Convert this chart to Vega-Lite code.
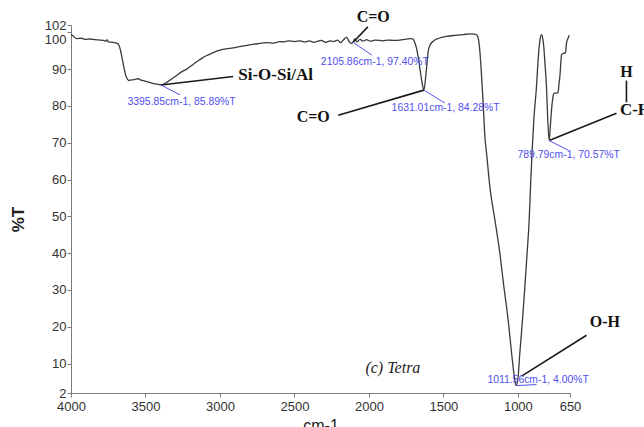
{
  "$schema": "https://vega.github.io/schema/vega-lite/v6.json",
  "width": 499,
  "height": 368,
  "autosize": {"type": "none"},
  "padding": {"left": 71, "top": 25, "right": 74, "bottom": 34},
  "background": "white",
  "config": {
    "view": {"stroke": null},
    "axis": {
      "grid": false,
      "domainColor": "#7a7a7a",
      "tickColor": "#7a7a7a",
      "labelColor": "#333333",
      "labelFont": "Liberation Sans",
      "labelFontSize": 13,
      "titleFont": "Liberation Sans",
      "titleColor": "#222222",
      "titleFontSize": 16,
      "titleFontWeight": "normal",
      "tickSize": 4,
      "labelOverlap": false,
      "labelFlush": false,
      "format": "d"
    }
  },
  "datasets": {
    "spectrum": [
      {"wn": 4000, "T": 99.4}, {"wn": 3985, "T": 99.0}, {"wn": 3962, "T": 98.3}, {"wn": 3930, "T": 98.4},
      {"wn": 3900, "T": 98.1}, {"wn": 3872, "T": 98.2}, {"wn": 3840, "T": 98.0}, {"wn": 3805, "T": 97.9},
      {"wn": 3780, "T": 97.8}, {"wn": 3765, "T": 97.6}, {"wn": 3758, "T": 98.0}, {"wn": 3750, "T": 97.4},
      {"wn": 3718, "T": 97.3}, {"wn": 3690, "T": 97.0}, {"wn": 3682, "T": 96.8}, {"wn": 3672, "T": 95.8},
      {"wn": 3667, "T": 95.0}, {"wn": 3658, "T": 93.2}, {"wn": 3649, "T": 91.4}, {"wn": 3640, "T": 89.6},
      {"wn": 3631, "T": 88.1}, {"wn": 3620, "T": 87.2}, {"wn": 3610, "T": 86.9}, {"wn": 3595, "T": 87.1},
      {"wn": 3582, "T": 87.1}, {"wn": 3565, "T": 87.3}, {"wn": 3548, "T": 87.4}, {"wn": 3530, "T": 87.0},
      {"wn": 3515, "T": 86.9}, {"wn": 3490, "T": 86.6}, {"wn": 3458, "T": 86.2}, {"wn": 3430, "T": 86.0},
      {"wn": 3410, "T": 85.8}, {"wn": 3396, "T": 85.7}, {"wn": 3380, "T": 85.9}, {"wn": 3358, "T": 86.4},
      {"wn": 3330, "T": 87.2}, {"wn": 3291, "T": 88.3}, {"wn": 3260, "T": 89.2}, {"wn": 3224, "T": 90.0},
      {"wn": 3190, "T": 91.0}, {"wn": 3156, "T": 92.0}, {"wn": 3120, "T": 93.0}, {"wn": 3089, "T": 93.7},
      {"wn": 3050, "T": 94.4}, {"wn": 3022, "T": 94.9}, {"wn": 3000, "T": 95.2}, {"wn": 2960, "T": 95.5},
      {"wn": 2911, "T": 95.8}, {"wn": 2860, "T": 96.2}, {"wn": 2799, "T": 96.6}, {"wn": 2750, "T": 96.9},
      {"wn": 2687, "T": 97.2}, {"wn": 2640, "T": 97.1}, {"wn": 2600, "T": 97.5}, {"wn": 2575, "T": 97.4},
      {"wn": 2540, "T": 97.7}, {"wn": 2500, "T": 97.5}, {"wn": 2463, "T": 97.7}, {"wn": 2430, "T": 97.4},
      {"wn": 2400, "T": 97.7}, {"wn": 2370, "T": 97.3}, {"wn": 2351, "T": 97.5}, {"wn": 2320, "T": 97.8},
      {"wn": 2290, "T": 97.3}, {"wn": 2260, "T": 97.7}, {"wn": 2240, "T": 97.5}, {"wn": 2210, "T": 97.9},
      {"wn": 2190, "T": 97.2}, {"wn": 2170, "T": 98.0}, {"wn": 2150, "T": 98.7}, {"wn": 2135, "T": 97.6},
      {"wn": 2120, "T": 97.0}, {"wn": 2106, "T": 97.3}, {"wn": 2095, "T": 98.2}, {"wn": 2080, "T": 97.4},
      {"wn": 2060, "T": 98.1}, {"wn": 2040, "T": 97.6}, {"wn": 2016, "T": 98.0}, {"wn": 1990, "T": 97.6},
      {"wn": 1960, "T": 97.9}, {"wn": 1926, "T": 97.8}, {"wn": 1906, "T": 97.7}, {"wn": 1870, "T": 97.9},
      {"wn": 1830, "T": 97.8}, {"wn": 1792, "T": 97.9}, {"wn": 1760, "T": 98.1}, {"wn": 1725, "T": 98.3},
      {"wn": 1705, "T": 98.2}, {"wn": 1695, "T": 97.5}, {"wn": 1680, "T": 95.6}, {"wn": 1668, "T": 93.0},
      {"wn": 1658, "T": 90.3}, {"wn": 1645, "T": 86.8}, {"wn": 1631, "T": 84.3}, {"wn": 1620, "T": 87.5},
      {"wn": 1613, "T": 90.3}, {"wn": 1602, "T": 94.8}, {"wn": 1590, "T": 96.5}, {"wn": 1568, "T": 97.6},
      {"wn": 1530, "T": 98.4}, {"wn": 1479, "T": 98.9}, {"wn": 1420, "T": 99.2}, {"wn": 1367, "T": 99.4},
      {"wn": 1320, "T": 99.6}, {"wn": 1289, "T": 99.5}, {"wn": 1275, "T": 99.2}, {"wn": 1266, "T": 98.4},
      {"wn": 1255, "T": 94.8}, {"wn": 1245, "T": 89.0}, {"wn": 1233, "T": 80.7}, {"wn": 1221, "T": 71.5},
      {"wn": 1210, "T": 67.1}, {"wn": 1188, "T": 58.1}, {"wn": 1154, "T": 49.0}, {"wn": 1121, "T": 40.0},
      {"wn": 1094, "T": 30.9}, {"wn": 1065, "T": 21.8}, {"wn": 1042, "T": 12.8}, {"wn": 1025, "T": 6.8},
      {"wn": 1012, "T": 4.0}, {"wn": 1000, "T": 5.8}, {"wn": 987, "T": 12.8}, {"wn": 969, "T": 21.8},
      {"wn": 953, "T": 30.9}, {"wn": 938, "T": 40.0}, {"wn": 924, "T": 49.0}, {"wn": 915, "T": 58.1},
      {"wn": 905, "T": 67.1}, {"wn": 893, "T": 76.2}, {"wn": 875, "T": 85.3}, {"wn": 865, "T": 92.0},
      {"wn": 857, "T": 96.1}, {"wn": 849, "T": 98.6}, {"wn": 841, "T": 99.4}, {"wn": 834, "T": 98.6},
      {"wn": 826, "T": 96.1}, {"wn": 818, "T": 91.5}, {"wn": 808, "T": 85.3}, {"wn": 800, "T": 77.0},
      {"wn": 790, "T": 70.6}, {"wn": 782, "T": 74.5}, {"wn": 774, "T": 78.9}, {"wn": 766, "T": 82.0},
      {"wn": 758, "T": 83.4}, {"wn": 745, "T": 83.5}, {"wn": 730, "T": 83.6}, {"wn": 724, "T": 86.0},
      {"wn": 718, "T": 88.0}, {"wn": 712, "T": 91.5}, {"wn": 707, "T": 93.9}, {"wn": 692, "T": 94.3},
      {"wn": 680, "T": 94.4}, {"wn": 676, "T": 96.0}, {"wn": 674, "T": 97.0}, {"wn": 663, "T": 98.4},
      {"wn": 655, "T": 99.2}
    ],
    "blackLeaders": [
      {"wn": 3396, "T": 85.7, "wn2": 2911, "T2": 88.0},
      {"wn": 2106, "T": 97.3, "wn2": 2007, "T2": 101.5},
      {"wn": 1631, "T": 84.3, "wn2": 2206, "T2": 77.5},
      {"wn": 790, "T": 70.6, "wn2": 338, "T2": 78.0},
      {"wn": 271, "T": 86.9, "wn2": 271, "T2": 81.0},
      {"wn": 975, "T": 6.6, "wn2": 539, "T2": 17.7}
    ],
    "blueLeaders": [
      {"wn": 3396, "T": 85.7, "wn2": 3268, "T2": 83.0},
      {"wn": 2106, "T": 97.3, "wn2": 1980, "T2": 93.8},
      {"wn": 1631, "T": 84.3, "wn2": 1490, "T2": 80.8},
      {"wn": 790, "T": 70.6, "wn2": 664, "T2": 68.0},
      {"wn": 1010, "T": 4.0, "wn2": 875, "T2": 4.3}
    ],
    "peakLabels": [
      {"wn": 3258, "T": 81.2, "label": "3395.85cm-1, 85.89%T"},
      {"wn": 1960, "T": 92.0, "label": "2105.86cm-1, 97.40%T"},
      {"wn": 1485, "T": 79.4, "label": "1631.01cm-1, 84.28%T"},
      {"wn": 659, "T": 66.7, "label": "789.79cm-1, 70.57%T"},
      {"wn": 864, "T": 5.5, "label": "1011.56cm-1, 4.00%T"}
    ],
    "groupLabelsCenter": [
      {"wn": 1971, "T": 104.3, "label": "C=O"},
      {"wn": 2374, "T": 76.9, "label": "C=O"},
      {"wn": 271, "T": 89.3, "label": "H"},
      {"wn": 416, "T": 21.4, "label": "O-H"}
    ],
    "groupLabelsLeft": [
      {"wn": 2877, "T": 88.4, "label": "Si-O-Si/Al"},
      {"wn": 315, "T": 78.9, "label": "C-H"}
    ],
    "sampleLabel": [
      {"wn": 1839, "T": 8.8, "label": "(c) Tetra"}
    ]
  },
  "encoding": {
    "x": {
      "field": "wn",
      "type": "quantitative",
      "scale": {"domain": [4000, 650], "nice": false, "zero": false},
      "axis": {
        "title": "cm-1",
        "values": [4000, 3500, 3000, 2500, 2000, 1500, 1000, 650],
        "labelPadding": 3,
        "titlePadding": 4
      }
    },
    "y": {
      "field": "T",
      "type": "quantitative",
      "scale": {"domain": [2, 102], "nice": false, "zero": false},
      "axis": {
        "title": "%T",
        "titleFontWeight": "bold",
        "titleFontSize": 17,
        "values": [2, 10, 20, 30, 40, 50, 60, 70, 80, 90, 100, 102],
        "labelPadding": 1,
        "labelOffset": {"condition": {"test": "datum.value === 100", "value": 7}, "value": 0},
        "titlePadding": 17,
        "titleY": 194
      }
    }
  },
  "layer": [
    {
      "data": {"name": "spectrum"},
      "mark": {"type": "line", "color": "#3a3a3a", "strokeWidth": 1.3, "interpolate": "monotone", "clip": false}
    },
    {
      "data": {"name": "blackLeaders"},
      "mark": {"type": "rule", "color": "#1a1a1a", "strokeWidth": 1.6},
      "encoding": {"x2": {"field": "wn2"}, "y2": {"field": "T2"}}
    },
    {
      "data": {"name": "blueLeaders"},
      "mark": {"type": "rule", "color": "#5555ee", "strokeWidth": 1},
      "encoding": {"x2": {"field": "wn2"}, "y2": {"field": "T2"}}
    },
    {
      "data": {"name": "peakLabels"},
      "mark": {"type": "text", "color": "#4f4ff0", "font": "Liberation Sans", "fontSize": 10.4, "align": "center", "baseline": "middle"},
      "encoding": {"text": {"field": "label"}}
    },
    {
      "data": {"name": "groupLabelsCenter"},
      "mark": {"type": "text", "color": "#111111", "font": "Liberation Serif", "fontSize": 16, "fontWeight": "bold", "align": "center", "baseline": "middle"},
      "encoding": {"text": {"field": "label"}}
    },
    {
      "data": {"name": "groupLabelsLeft"},
      "mark": {"type": "text", "color": "#111111", "font": "Liberation Serif", "fontSize": 17, "fontWeight": "bold", "align": "left", "baseline": "middle"},
      "encoding": {"text": {"field": "label"}}
    },
    {
      "data": {"name": "sampleLabel"},
      "mark": {"type": "text", "color": "#222222", "font": "Liberation Serif", "fontSize": 16, "fontStyle": "italic", "align": "center", "baseline": "middle"},
      "encoding": {"text": {"field": "label"}}
    }
  ]
}
